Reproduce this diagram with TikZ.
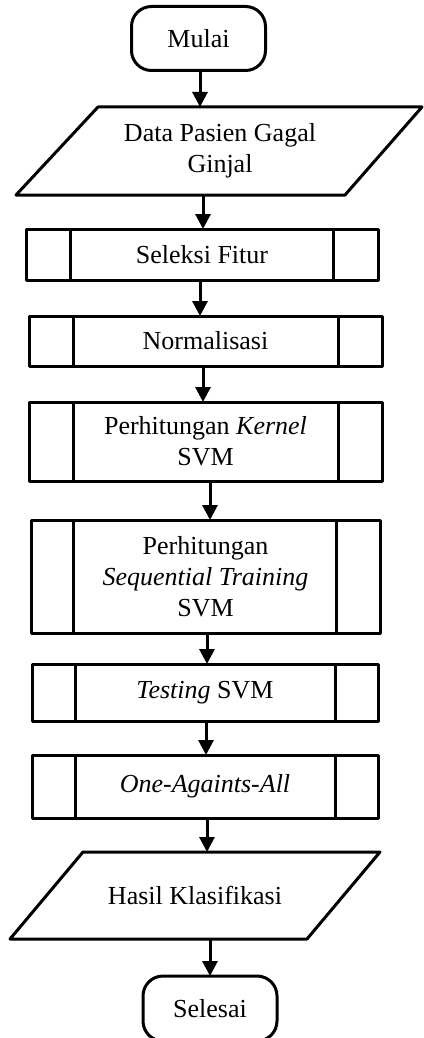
\documentclass[tikz,border=0pt]{standalone}
\usepackage{fontspec}
\setmainfont{Liberation Serif}
\usetikzlibrary{arrows.meta}
\begin{document}
\begin{tikzpicture}[x=1pt,y=-1pt, line width=3pt, line join=round,
  every node/.style={font=\fontsize{26}{31}\selectfont, align=center, inner sep=0pt, outer sep=0pt},
  term/.style={draw, rounded corners=20pt, minimum width=134pt, minimum height=64pt},
  io/.style={minimum height=88pt},
  predef/.style={draw, minimum width=#1},
  arr/.style={-{Triangle[width=15pt,length=15pt]}}
]
\useasboundingbox (0,0) rectangle (423,1038);

% nodes
\node[term] (mulai) at (198.5,38.5) {Mulai};
\node[io, minimum width=325pt] (data) at (220,151) {Data Pasien Gagal\\Ginjal};
\node[predef=352pt, minimum height=51pt] (sel) at (202,254.5) {Seleksi Fitur};
\node[predef=353pt, minimum height=50pt] (nor) at (205.5,341) {Normalisasi};
\node[predef=353pt, minimum height=79pt] (ker) at (205.5,441.5) {Perhitungan \textit{Kernel}\\SVM};
\node[predef=349pt, minimum height=113pt] (seq) at (205.5,576.5) {Perhitungan\\\textit{Sequential Training}\\SVM};
\node[predef=346pt, minimum height=57pt] (tes) at (205,692.5) {\textit{Testing} SVM};
\node[predef=346pt, minimum height=63pt] (one) at (205,786.5) {\textit{One-Againts-All}};
\node[io, minimum width=297pt, minimum height=87pt] (has) at (195,895.5) {Hasil Klasifikasi};
\node[term, minimum height=65pt] (sls) at (210,1008.5) {Selesai};

% parallelograms
\draw ([xshift=-122pt]data.north) -- ([xshift=202pt]data.north) -- ([xshift=125pt]data.south) -- ([xshift=-204pt]data.south) -- cycle;
\draw ([xshift=-112pt]has.north) -- ([xshift=185pt]has.north) -- ([xshift=112pt]has.south) -- ([xshift=-185pt]has.south) -- cycle;

% inner lines of predefined-process boxes
\foreach \n/\l/\r in {sel/44/45, nor/44/44, ker/44/44, seq/42/44, tes/43/43, one/43/43}{
  \draw ([xshift=\l pt]\n.north west) -- ([xshift=\l pt]\n.south west);
  \draw ([xshift=-\r pt]\n.north east) -- ([xshift=-\r pt]\n.south east);
}

% arrow columns
\coordinate (c1) at (200,0);
\coordinate (c2) at (203,0);
\coordinate (c3) at (200,0);
\coordinate (c4) at (203,0);
\coordinate (c5) at (210,0);
\coordinate (c6) at (207,0);
\coordinate (c7) at (206,0);
\coordinate (c8) at (207,0);
\coordinate (c9) at (210,0);

\draw[arr] (mulai.south -| c1) -- (data.north -| c1);
\draw[arr] (data.south -| c2) -- (sel.north -| c2);
\draw[arr] (sel.south -| c3) -- (nor.north -| c3);
\draw[arr] (nor.south -| c4) -- (ker.north -| c4);
\draw[arr] (ker.south -| c5) -- (seq.north -| c5);
\draw[arr] (seq.south -| c6) -- (tes.north -| c6);
\draw[arr] (tes.south -| c7) -- (one.north -| c7);
\draw[arr] (one.south -| c8) -- (has.north -| c8);
\draw[arr] (has.south -| c9) -- (sls.north -| c9);
\end{tikzpicture}
\end{document}
